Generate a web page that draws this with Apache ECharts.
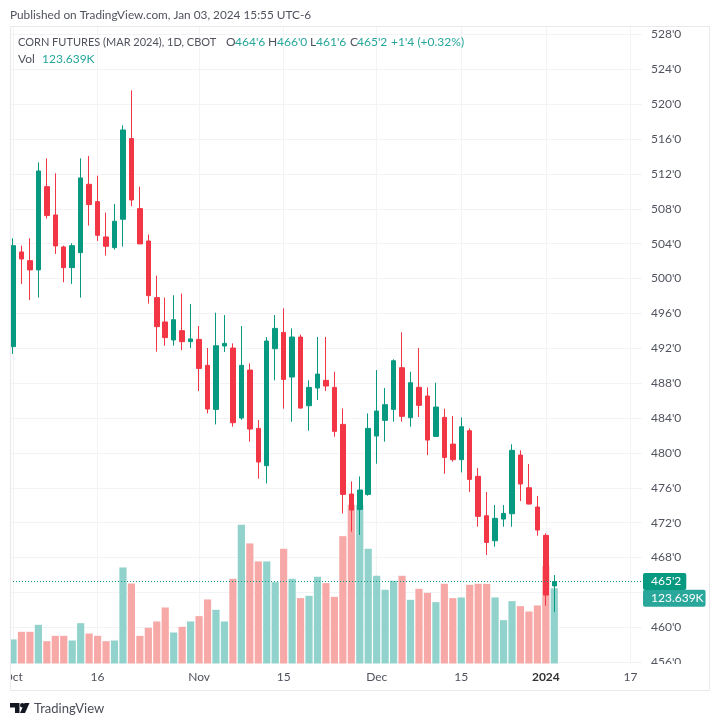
<!DOCTYPE html>
<html>
<head>
<meta charset="utf-8">
<title>Corn futures</title>
<style>
	html, body { margin: 0; padding: 0; background: #fff; }
	#chart { width: 720px; height: 726px; }
</style>
<script src="https://cdn.jsdelivr.net/npm/echarts@6/dist/echarts.min.js"></script>
</head>
<body>
<div id="chart"></div>
<script>
//每根K线的数据
var opens = [492.2,503.06,502.06,501,510.55,507.3,503.63,501.26,502.98,510.82,508.83,504.78,503.56,506.81,516.06,508.03,504.32,497.82,495.03,492.96,494.03,492.77,493.03,490.05,485,492.27,492.04,484.01,489.51,482.82,478.54,491.96,493.83,488.71,493.3,485.42,487.45,488.33,487.52,483.28,475.29,473.53,475.25,481.94,483.74,485,489.78,484.05,487.53,486.53,481.9,484.08,481.02,479.23,482.55,477.32,472.8,469.93,472.42,473.03,479.76,476.01,473.8,470.55,464.75];
var closes = [503.78,502.25,501,512.35,507.23,503.75,501.26,503.78,511.55,508.49,504.97,503.71,506.58,517.05,509.02,503.98,498.05,494.49,493.23,495.29,492.77,493.08,489.7,485.04,492.3,492.57,483.47,490.05,482.74,478.96,492.84,494.29,488.44,493.3,485.15,487.52,489.05,487.68,482.48,475.25,473.45,475.75,482.82,484.81,485.54,490.58,484.2,488.06,485.46,481.48,485.27,479.49,479.23,483.01,476.97,472.73,469.74,472.5,473.07,480.3,476.44,474.14,471.16,463.7,465.25];
var lows = [491.36,499.39,497.55,497.82,506.88,502.83,499.58,499.39,497.82,506.08,504.32,502.64,503.33,503.67,508.3,503.98,497.13,491.62,492.31,492.31,491.81,492.04,487.1,484.54,483.28,491.58,483.01,483.81,481.29,477.05,476.51,488.33,485.08,483.58,485.08,482.55,486.07,487.1,481.86,473.07,470.97,470.59,475.1,478.77,481.29,483.59,483.59,483.01,484.12,479.76,481.87,477.62,479,477.77,475.52,471.54,468.29,469.25,471.54,471.54,474.48,474.1,470.51,462.48,461.75];
var highs = [504.63,503.78,504.63,513.34,513.8,512.08,503.78,504.05,513.8,514.07,511.81,507.57,508.56,517.59,521.6,510.55,505.05,500.34,497.82,498.09,498.28,497.09,494.56,492.04,496.09,495.82,492.57,494.56,490.28,483.78,493.3,495.82,496.59,494.29,493.57,488.33,493.3,493.3,489.32,485.11,476.74,477.31,484.54,489.51,487.45,490.74,493.84,489.32,492.04,487.53,488.06,485.08,484.24,484.08,482.82,478.27,475.52,474.03,474.03,480.99,480.3,478.73,475.06,470.78,466];
var volumes = [39.5,52.1,52.1,63.6,36.7,45.5,45.5,37.8,66.3,49.3,45.5,36.7,37.8,157.9,131.6,45.5,58.7,69.1,92.1,51,60.3,69.1,77.9,105.3,88.3,69.1,139.3,228,197.4,167.8,167.8,133.8,188.6,139.3,107.5,111.3,142.5,132.1,109.6,209.4,261,261,188.6,144.2,121.2,136,144.2,104.7,122.8,116.2,100.9,131,107.5,108.6,129.4,131,131,108.6,71.3,102.5,94.3,85.5,95.4,160.6,123.639];

//坐标轴刻度
var priceTicks = [528,524,520,516,512,508,504,500,496,492,488,484,480,476,472,468,460,456];
var timeTicks = [0,10,22,32,43,53,63,73];
var timeLabels = ['Oct','16','Nov','15','Dec','15','2024','17'];

var lastPrice = 465.25;
var lastVolume = 123.639;
var xMin = -0.355, xMax = 74.37;

var upColor = '#089981', downColor = '#f23645';
var upVolColor = '#92d2cc', downVolColor = '#f7a9a7';
var textColor = '#50535e', lineColor = '#f3f3f5';
var fontName = 'Lato, sans-serif';

var candleData = [], volumeData = [];
for (var i = 0; i < opens.length; i++) {
	candleData.push([i, opens[i], closes[i], lows[i], highs[i]]);
	volumeData.push({
		value: [i, volumes[i]],
		itemStyle: { color: closes[i] >= opens[i] ? upVolColor : downVolColor }
	});
}

function priceLabel(v) {
	return v + "'0";
}

function headText(x, y, text, color, size) {
	return {
		type: 'text', x: x, y: y, z: 120,
		style: { text: text, fill: color, font: (size || 12) + 'px ' + fontName, textVerticalAlign: 'middle' }
	};
}

var graphicList = [
	//盖住左侧和右下超出部分
	{ type: 'rect', z: 100, shape: { x: 0, y: 20, width: 10, height: 680 }, style: { fill: '#fff' } },
	{ type: 'rect', z: 100, shape: { x: 642, y: 664, width: 68, height: 27 }, style: { fill: '#fff' } },
	{ type: 'rect', z: 110, shape: { x: 10.5, y: 26.5, width: 699, height: 664 }, style: { fill: 'none', stroke: '#e9e9ec', lineWidth: 1 } },
	headText(10, 15, 'Published on TradingView.com, Jan 03, 2024 15:55 UTC-6', textColor, 11.8),
	headText(18, 42, 'CORN FUTURES (MAR 2024), 1D, CBOT', textColor, 11),
	headText(226, 42, 'O', textColor),
	headText(235, 42, "464'6", '#26a69a'),
	headText(268, 42, 'H', textColor),
	headText(277, 42, "466'0", '#26a69a'),
	headText(310, 42, 'L', textColor),
	headText(316, 42, "461'6", '#26a69a'),
	headText(350, 42, 'C', textColor),
	headText(357, 42, "465'2", '#26a69a'),
	headText(391, 42, "+1'4 (+0.32%)", '#26a69a'),
	headText(18, 59, 'Vol', textColor),
	headText(42, 59, '123.639K', '#26a69a'),
	//TradingView 标志
	{ type: 'polygon', z: 120, shape: { points: [[10,703],[19.5,703],[19.5,713],[15,713],[15,707.5],[10,707.5]] }, style: { fill: '#131722' } },
	{ type: 'circle', z: 120, shape: { cx: 22.2, cy: 705.2, r: 2.2 }, style: { fill: '#131722' } },
	{ type: 'polygon', z: 120, shape: { points: [[24.5,703],[29.5,703],[25,713],[20,713]] }, style: { fill: '#131722' } },
	{
		type: 'text', x: 34, y: 709, z: 120,
		style: { text: 'TradingView', fill: '#4a4d57', font: '13px ' + fontName, textVerticalAlign: 'middle' }
	}
];

var myChart = echarts.init(document.getElementById('chart'));

var option = {
	animation: false,
	backgroundColor: '#fff',
	grid: [
		{ left: 10, right: 78, top: 25.8, bottom: 63.8 },
		{ left: 10, right: 78, top: 26, bottom: 62.5 }
	],
	xAxis: [
		{
			type: 'value', gridIndex: 0, min: xMin, max: xMax,
			axisLine: { show: false }, axisTick: { show: false },
			axisLabel: { show: false }, splitLine: { show: false }
		},
		{
			type: 'value', gridIndex: 1, min: xMin, max: xMax,
			axisLine: { show: false },
			axisTick: { show: false, customValues: timeTicks },
			splitLine: { show: true, lineStyle: { color: lineColor, width: 1 } },
			axisLabel: {
				customValues: timeTicks,
				margin: 8,
				color: textColor,
				fontFamily: fontName,
				fontSize: 12,
				showMinLabel: true,
				showMaxLabel: true,
				hideOverlap: false,
				formatter: function (v) {
					var s = timeLabels[timeTicks.indexOf(v)];
					return s === '2024' ? '{b|' + s + '}' : s;
				},
				rich: { b: { fontWeight: 'bold', color: '#333', fontFamily: fontName, fontSize: 12 } }
			}
		}
	],
	yAxis: [
		{
			type: 'value', gridIndex: 0, position: 'right', min: 456, max: 529, interval: 4,
			axisLine: { show: false }, axisTick: { show: false },
			splitLine: { show: true, lineStyle: { color: lineColor, width: 1 } },
			axisLabel: {
				customValues: priceTicks,
				margin: 9,
				color: textColor,
				fontFamily: fontName,
				fontSize: 12,
				formatter: priceLabel
			}
		},
		{
			type: 'value', gridIndex: 1, min: 0, max: 1048, show: false
		}
	],
	series: [
		{
			name: 'Vol',
			type: 'bar',
			xAxisIndex: 1,
			yAxisIndex: 1,
			barWidth: 7.2,
			z: 1,
			data: volumeData,
			markLine: {
				silent: true,
				symbol: 'none',
				lineStyle: { color: 'transparent', width: 0 },
				label: {
					show: true,
					position: 'end',
					distance: 1,
					offset: [0, 10],
					formatter: '123.639K',
					color: '#fff',
					fontFamily: fontName,
					fontSize: 12,
					backgroundColor: '#2aa79b',
					padding: [3, 2, 2, 8],
					borderRadius: 2
				},
				data: [{ yAxis: lastVolume }]
			}
		},
		{
			name: 'CORN FUTURES',
			type: 'candlestick',
			xAxisIndex: 0,
			yAxisIndex: 0,
			barWidth: 5,
			z: 3,
			encode: { x: 0, y: [1, 2, 3, 4] },
			itemStyle: {
				color: upColor,
				color0: downColor,
				borderColor: upColor,
				borderColor0: downColor,
				borderWidth: 1
			},
			data: candleData,
			markLine: {
				silent: true,
				symbol: 'none',
				lineStyle: { color: upColor, type: [1, 2], width: 1 },
				label: {
					position: 'end',
					distance: 1,
					formatter: "465'2",
					color: '#fff',
					fontFamily: fontName,
					fontSize: 12,
					backgroundColor: upColor,
					padding: [3, 5, 2, 8],
					borderRadius: 2
				},
				data: [[{ coord: [xMin, lastPrice] }, { coord: [xMax, lastPrice] }]]
			}
		}
	],
	graphic: graphicList
};

myChart.setOption(option);
</script>
</body>
</html>
